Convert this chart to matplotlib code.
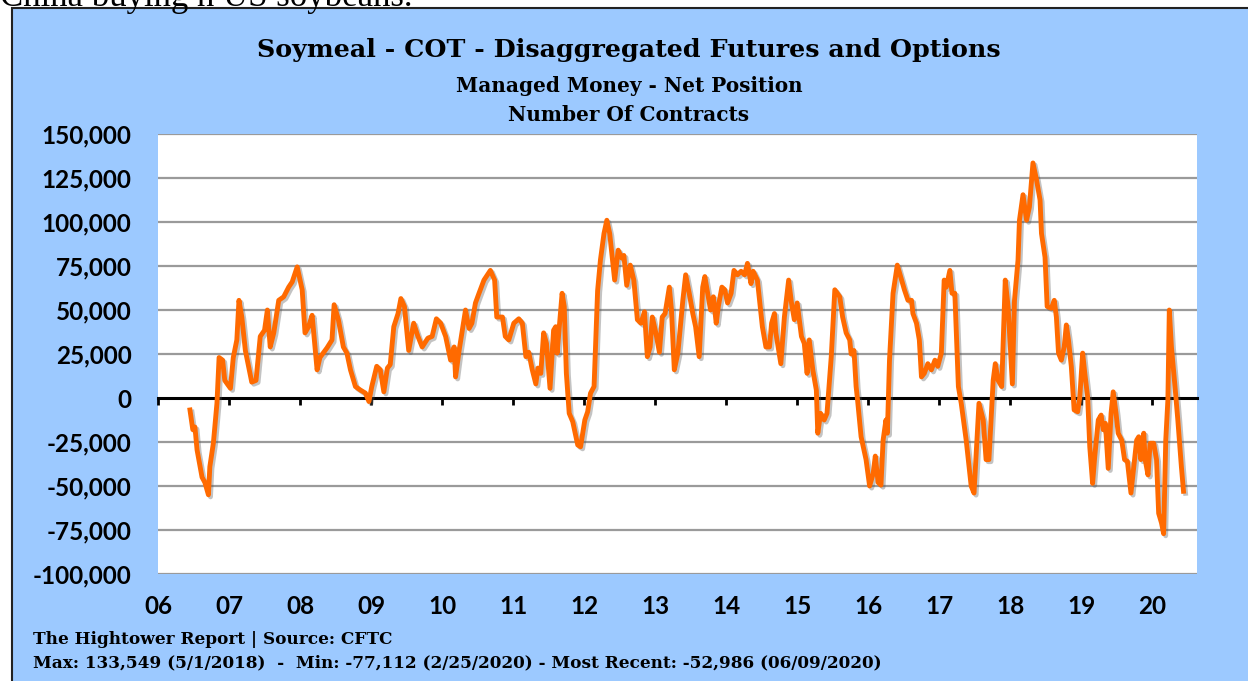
import numpy as np
import matplotlib
matplotlib.use("Agg")
import matplotlib.pyplot as plt
import matplotlib.patheffects as pe
from matplotlib.patches import Rectangle

# weekly net position (decimal year, contracts)
dates = [
    2006.45, 2006.49, 2006.52, 2006.55, 2006.62, 2006.66, 2006.71, 2006.73, 2006.78, 2006.83,
    2006.86, 2006.91, 2006.94, 2007.02, 2007.06, 2007.11, 2007.14, 2007.18, 2007.23, 2007.32,
    2007.38, 2007.44, 2007.50, 2007.54, 2007.58, 2007.63, 2007.70, 2007.77, 2007.84, 2007.89,
    2007.96, 2008.03, 2008.07, 2008.12, 2008.17, 2008.24, 2008.28, 2008.38, 2008.45, 2008.48,
    2008.54, 2008.57, 2008.61, 2008.66, 2008.71, 2008.78, 2008.85, 2008.92, 2008.97, 2009.01,
    2009.08, 2009.13, 2009.18, 2009.23, 2009.27, 2009.32, 2009.38, 2009.42, 2009.47, 2009.53,
    2009.60, 2009.66, 2009.72, 2009.80, 2009.86, 2009.92, 2009.98, 2010.05, 2010.12, 2010.17,
    2010.19, 2010.24, 2010.33, 2010.38, 2010.42, 2010.47, 2010.52, 2010.59, 2010.68, 2010.74,
    2010.77, 2010.85, 2010.89, 2010.94, 2011.01, 2011.08, 2011.13, 2011.18, 2011.22, 2011.27,
    2011.32, 2011.35, 2011.39, 2011.43, 2011.47, 2011.52, 2011.57, 2011.60, 2011.62, 2011.69,
    2011.72, 2011.75, 2011.79, 2011.84, 2011.91, 2011.95, 2012.01, 2012.05, 2012.09, 2012.14,
    2012.19, 2012.23, 2012.28, 2012.32, 2012.36, 2012.43, 2012.48, 2012.53, 2012.56, 2012.60,
    2012.65, 2012.70, 2012.75, 2012.80, 2012.85, 2012.89, 2012.93, 2012.96, 2013.01, 2013.06,
    2013.10, 2013.14, 2013.20, 2013.23, 2013.27, 2013.32, 2013.39, 2013.43, 2013.48, 2013.53,
    2013.57, 2013.62, 2013.67, 2013.70, 2013.74, 2013.78, 2013.82, 2013.86, 2013.89, 2013.94,
    2013.98, 2014.02, 2014.07, 2014.11, 2014.16, 2014.21, 2014.26, 2014.30, 2014.35, 2014.38,
    2014.44, 2014.51, 2014.56, 2014.61, 2014.64, 2014.68, 2014.70, 2014.77, 2014.82, 2014.88,
    2014.92, 2014.96, 2015.00, 2015.06, 2015.10, 2015.14, 2015.17, 2015.22, 2015.27, 2015.29,
    2015.33, 2015.38, 2015.42, 2015.48, 2015.53, 2015.60, 2015.64, 2015.69, 2015.74, 2015.76,
    2015.80, 2015.83, 2015.85, 2015.90, 2015.97, 2016.02, 2016.07, 2016.10, 2016.14, 2016.18,
    2016.21, 2016.25, 2016.27, 2016.30, 2016.35, 2016.41, 2016.47, 2016.51, 2016.56, 2016.61,
    2016.63, 2016.68, 2016.72, 2016.75, 2016.79, 2016.84, 2016.89, 2016.94, 2016.98, 2017.03,
    2017.07, 2017.10, 2017.15, 2017.18, 2017.22, 2017.27, 2017.31, 2017.38, 2017.45, 2017.49,
    2017.54, 2017.56, 2017.62, 2017.66, 2017.70, 2017.76, 2017.79, 2017.83, 2017.88, 2017.93,
    2017.97, 2018.03, 2018.06, 2018.11, 2018.13, 2018.18, 2018.23, 2018.27, 2018.32, 2018.37,
    2018.42, 2018.44, 2018.49, 2018.52, 2018.58, 2018.62, 2018.65, 2018.68, 2018.72, 2018.76,
    2018.79, 2018.82, 2018.86, 2018.90, 2018.95, 2018.98, 2019.02, 2019.05, 2019.09, 2019.12,
    2019.16, 2019.19, 2019.24, 2019.28, 2019.31, 2019.34, 2019.38, 2019.42, 2019.45, 2019.49,
    2019.52, 2019.57, 2019.61, 2019.65, 2019.70, 2019.75, 2019.78, 2019.81, 2019.84, 2019.88,
    2019.90, 2019.94, 2019.97, 2020.02, 2020.06, 2020.09, 2020.13, 2020.16, 2020.19, 2020.22,
    2020.24, 2020.27, 2020.32, 2020.36, 2020.41, 2020.44,
]
net_position = [
    -6800, -18000, -16500, -29500, -45000, -48000, -55000, -39000, -25500, -3000,
    23000, 21500, 10000, 5500, 23000, 33000, 55500, 46000, 27000, 9000,
    10000, 35000, 38500, 50000, 29000, 37000, 55500, 57500, 63000, 66000,
    74500, 61500, 37000, 40500, 47000, 16000, 23000, 28500, 33000, 53000,
    44500, 38000, 29000, 25500, 16000, 6500, 4500, 2800, -2000, 6500,
    18000, 16000, 3500, 17000, 19000, 40500, 48000, 56500, 52000, 27000,
    42500, 35000, 29000, 34000, 35000, 45000, 42500, 35000, 21500, 29000,
    12000, 27000, 50000, 39500, 42500, 54000, 59500, 67000, 72500, 67000,
    46000, 46000, 35000, 33000, 42500, 45000, 42500, 23500, 26000, 16000,
    8000, 17000, 14000, 37000, 31000, 5500, 38500, 40500, 25500, 59500,
    52000, 14000, -8700, -13500, -26700, -27700, -12500, -7800, 2700, 6500,
    61000, 78500, 93500, 101000, 93500, 67000, 84000, 79500, 81000, 64000,
    75500, 67000, 44500, 42500, 49000, 23500, 29000, 46000, 37000, 26000,
    46000, 48000, 63000, 50000, 16000, 25500, 55500, 70000, 59500, 48000,
    40500, 23500, 63000, 69000, 59500, 50000, 57500, 42500, 52000, 63000,
    61500, 54000, 59500, 72500, 70000, 72000, 70000, 76500, 65000, 72000,
    67000, 40500, 29000, 29000, 42500, 48000, 37000, 19500, 46000, 67000,
    54000, 44500, 54000, 35000, 31000, 14000, 33000, 16000, 4500, -20000,
    -8700, -12500, -8700, 23500, 61500, 57500, 46000, 37000, 33000, 25000,
    27000, 6500, -1000, -22000, -35000, -50000, -43000, -33000, -48000, -49500,
    -24000, -12500, -20000, 21500, 59500, 75500, 67000, 61500, 55500, 55500,
    48000, 42500, 33000, 12000, 14000, 19500, 16000, 21500, 18000, 25500,
    67000, 63000, 72500, 59500, 59500, 6500, -3000, -24000, -50000, -54000,
    -18000, -3000, -12500, -35000, -35000, 10000, 19500, 10000, 6500, 67000,
    52000, 8000, 55500, 78500, 101000, 115500, 101000, 108500, 133549, 124000,
    112500, 93500, 80000, 52000, 51000, 55500, 46000, 25500, 21500, 29000,
    41500, 33000, 18000, -6800, -7800, 700, 25500, 14000, 700, -27700,
    -48500, -33300, -12500, -9700, -18000, -14400, -40000, -8700, 3500, -8700,
    -20000, -24000, -35000, -36000, -54000, -35000, -24000, -22000, -35000, -20000,
    -35000, -43700, -25700, -25700, -35000, -65500, -71000, -77112, -24000, -1100,
    50000, 29000, 6500, -12500, -39000, -52986,
]

year_ticks = list(range(2006, 2021))
year_labels = ["%02d" % (y % 100) for y in year_ticks]
y_ticks = list(range(-100000, 150001, 25000))

title = "Soymeal - COT - Disaggregated Futures and Options"
subtitle1 = "Managed Money - Net Position"
subtitle2 = "Number Of Contracts"
footer1 = "The Hightower Report | Source: CFTC"
footer2 = "Max: 133,549 (5/1/2018)  -  Min: -77,112 (2/25/2020) - Most Recent: -52,986 (06/09/2020)"


def plot_cot():
    W, H = 1248, 681
    fig = plt.figure(figsize=(W / 100, H / 100), dpi=100)
    fig.patch.set_facecolor("white")

    # blue chart panel, behind the axes
    fig.patches.append(Rectangle((12 / W, -0.01), 1.0, 1 - 8 / H + 0.01, transform=fig.transFigure,
                                 facecolor="#9CC9FF", edgecolor="#222222", lw=1.5, zorder=-5))
    fig.text(0.0, 1 + 3 / H, "China buying n US soybeans.", fontsize=25, family="Liberation Serif",
             ha="left", va="center")

    ax = fig.add_axes([158 / W, 1 - 574 / H, (1197 - 158) / W, (574 - 134) / H])
    ax.set_zorder(2)
    ax.set_facecolor("white")
    ax.set_xlim(2006.0, 2020.63)
    ax.set_ylim(-100000, 150000)

    for v in y_ticks:
        if v != 0:
            ax.axhline(v, color="#9a9a9a", lw=1.6, zorder=1)

    for s in ["top", "right", "left"]:
        ax.spines[s].set_visible(False)
    ax.spines["bottom"].set_position(("data", 0))
    ax.spines["bottom"].set_color("black")
    ax.spines["bottom"].set_linewidth(2.2)
    ax.spines["bottom"].set_zorder(2)
    ax.set_xticks(year_ticks)
    ax.tick_params(axis="x", direction="out", length=5, width=2, color="black", labelbottom=False)

    ax.set_yticks(y_ticks)
    ax.set_yticklabels(["{:,}".format(v) for v in y_ticks])
    ax.tick_params(axis="y", length=0, pad=19)
    for lab in ax.get_yticklabels():
        lab.set_fontfamily("Lato")
        lab.set_fontweight("bold")
        lab.set_fontsize(17.5)

    sec = ax.secondary_xaxis("bottom")
    sec.set_xticks(year_ticks)
    sec.set_xticklabels(year_labels)
    sec.spines["bottom"].set_visible(False)
    sec.tick_params(length=0, pad=15)
    for lab in sec.get_xticklabels():
        lab.set_fontfamily("Lato")
        lab.set_fontweight("bold")
        lab.set_fontsize(17.5)

    ax.plot(dates, net_position, color="#FF6A00", lw=3.5, solid_joinstyle="round", zorder=3,
            path_effects=[pe.SimpleLineShadow(offset=(1.5, -1.5), shadow_color="#555555", alpha=0.35),
                          pe.Normal()])

    cx = 629 / W
    fig.text(cx, 1 - 50 / H, title, fontsize=18.3, fontweight="bold", family="DejaVu Serif",
             ha="center", va="center")
    fig.text(cx, 1 - 86 / H, subtitle1, fontsize=14.4, fontweight="bold", family="DejaVu Serif",
             ha="center", va="center")
    fig.text(cx, 1 - 115 / H, subtitle2, fontsize=14.4, fontweight="bold", family="DejaVu Serif",
             ha="center", va="center")
    fig.text(33 / W, 1 - 639 / H, footer1, fontsize=12.2, fontweight="bold", family="DejaVu Serif",
             ha="left", va="center")
    fig.text(33 / W, 1 - 663 / H, footer2, fontsize=12.2, fontweight="bold", family="DejaVu Serif",
             ha="left", va="center")

    fig.savefig("out.png", dpi=100)


def main():
    plot_cot()


if ("__main__" == __name__):
    main()
